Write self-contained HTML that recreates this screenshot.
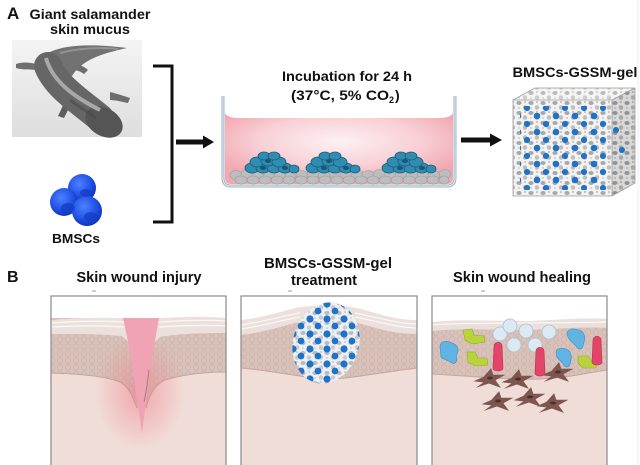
<!DOCTYPE html>
<html><head><meta charset="utf-8"><style>
html,body{margin:0;padding:0;background:#fff;}
svg{display:block;}
text{font-family:"Liberation Sans",Arial,sans-serif;font-weight:bold;fill:#111;}
</style></head><body>
<svg width="640" height="465" viewBox="0 0 640 465" xmlns="http://www.w3.org/2000/svg">
<defs>
  <linearGradient id="photo" x1="0" y1="0" x2="0" y2="1">
    <stop offset="0" stop-color="#f4f4f4"/><stop offset="1" stop-color="#dedede"/>
  </linearGradient>
  <radialGradient id="sph" cx="0.4" cy="0.35" r="0.7">
    <stop offset="0" stop-color="#4d82ff"/><stop offset="0.6" stop-color="#1f52e6"/><stop offset="1" stop-color="#0c2fb0"/>
  </radialGradient>
  <radialGradient id="liq" cx="0.5" cy="0.4" r="0.6">
    <stop offset="0" stop-color="#fdf1f2"/><stop offset="0.6" stop-color="#f8cfd5"/><stop offset="1" stop-color="#f2a7b1"/>
  </radialGradient>
  <radialGradient id="glow" cx="0.5" cy="0.5" r="0.5">
    <stop offset="0" stop-color="#f07a88" stop-opacity="0.55"/><stop offset="1" stop-color="#f07a88" stop-opacity="0"/>
  </radialGradient>
  <pattern id="pores" width="12" height="10" patternUnits="userSpaceOnUse">
    <rect width="12" height="10" fill="#f0f0f0"/>
    <ellipse cx="3" cy="3" rx="2.6" ry="2" fill="#999"/>
    <ellipse cx="9" cy="7.5" rx="2.2" ry="2.3" fill="#b3b3b3"/>
    <circle cx="9" cy="2" r="1" fill="#c9a98a"/>
    <circle cx="3" cy="8" r="1" fill="#c4c4c4"/>
  </pattern>
  <pattern id="bdots" width="19" height="16" patternUnits="userSpaceOnUse">
    <circle cx="5" cy="4" r="3.3" fill="#1f72c6"/>
    <circle cx="14" cy="12" r="3.1" fill="#1f72c6"/>
  </pattern>
  <pattern id="bdots2" width="17" height="15" patternUnits="userSpaceOnUse">
    <circle cx="4" cy="4" r="3.6" fill="#1f72c6"/>
    <circle cx="12" cy="11" r="3.4" fill="#1f72c6"/>
  </pattern>
  <pattern id="derm" width="8" height="7" patternUnits="userSpaceOnUse">
    <rect width="8" height="7" fill="#d9c2ba"/>
    <circle cx="4" cy="3.5" r="2.8" fill="none" stroke="#cbb0a7" stroke-width="0.6"/>
  </pattern>
  <clipPath id="c1"><rect x="51" y="296" width="175" height="170"/></clipPath>
  <clipPath id="c2"><rect x="241" y="296" width="176" height="170"/></clipPath>
  <clipPath id="c3"><rect x="432" y="296" width="175" height="170"/></clipPath>
  <clipPath id="gelB"><ellipse cx="326" cy="343" rx="33" ry="41" transform="rotate(15 326 343)"/></clipPath>
  <path id="fib" d="M-15,3 L-6,-1 L1,-9 L3,-3 L14,-3 L5,2 L10,9 L-1,5 L-13,9 L-6,4 Z"/>
</defs>

<line x1="638" y1="0" x2="638" y2="465" stroke="#ececec" stroke-width="1"/>

<!-- Panel A -->
<text x="7" y="19" font-size="17">A</text>
<text x="90" y="19" font-size="14" text-anchor="middle" textLength="121" lengthAdjust="spacingAndGlyphs">Giant salamander</text>
<text x="90" y="34" font-size="14" text-anchor="middle" textLength="80" lengthAdjust="spacingAndGlyphs">skin mucus</text>

<rect x="12" y="40" width="130" height="97" fill="url(#photo)"/>
<!-- salamander -->
<g>
  <path d="M16,64 C22,62 28,62 36,64 L36,70 C28,69 22,70 16,68 Z" fill="#6e6e6e"/>
  <path d="M72,64 C78,64 84,66 88,70 L84,74 C80,71 76,70 72,70 Z" fill="#6e6e6e"/>
  <path d="M110,92 C118,94 124,96 130,98 L128,103 C122,102 116,100 110,100 Z" fill="#6e6e6e"/>
  <path d="M64,102 C62,108 60,112 58,116 L64,118 C66,114 68,110 70,106 Z" fill="#5e5e5e"/>
  <path d="M38,62 C48,46 80,42 127,48 C100,54 82,60 72,76 Z" fill="#727272"/>
  <path d="M48,66 C56,86 78,100 100,118" stroke="#666" stroke-width="28" stroke-linecap="round" fill="none"/>
  <ellipse cx="104" cy="122" rx="20" ry="14" transform="rotate(30 104 122)" fill="#555"/>
  <path d="M46,58 C52,80 72,96 100,110" stroke="#a8a8a8" stroke-width="4" fill="none"/>
  <path d="M60,53 C80,48 100,47 118,49" stroke="#939393" stroke-width="2" fill="none"/>
  <path d="M70,100 C78,106 88,112 96,118" stroke="#4a4a4a" stroke-width="3" fill="none" opacity="0.6"/>
</g>

<!-- BMSCs spheres -->
<circle cx="82" cy="188" r="14" fill="url(#sph)"/>
<circle cx="64" cy="202" r="14" fill="url(#sph)"/>
<circle cx="87" cy="211" r="15" fill="url(#sph)"/>
<ellipse cx="68" cy="208" rx="7" ry="5" fill="#163fc6" opacity="0.8"/>
<ellipse cx="91" cy="217" rx="7" ry="5" fill="#163fc6" opacity="0.8"/>
<ellipse cx="86" cy="193" rx="6" ry="4" fill="#163fc6" opacity="0.8"/>
<text x="52" y="243" font-size="13" textLength="48" lengthAdjust="spacingAndGlyphs">BMSCs</text>

<!-- bracket -->
<path d="M153,66 L172,66 L172,222 L153,222" stroke="#111" stroke-width="3" fill="none"/>
<!-- arrow 1 -->
<line x1="176" y1="142" x2="205" y2="142" stroke="#111" stroke-width="5"/>
<polygon points="203,135.5 214,142 203,148.5" fill="#111"/>

<!-- Incubation -->
<text x="347" y="81" font-size="14" text-anchor="middle" textLength="130" lengthAdjust="spacingAndGlyphs">Incubation for 24 h</text>
<text x="340" y="100" font-size="14" text-anchor="middle" textLength="98" lengthAdjust="spacingAndGlyphs">(37°C, 5% CO</text>
<text x="389" y="103" font-size="9">2</text>
<text x="395" y="100" font-size="14">)</text>

<!-- petri dish -->
<path d="M225,113 Q227,118 240,118 L438,118 Q451,118 453,113 L453,178 Q453,184 447,184 L231,184 Q225,184 225,178 Z" fill="url(#liq)"/>
<g fill="#bdbdbd" stroke="#9a9a9a" stroke-width="0.6">
  <ellipse cx="236" cy="175" rx="6" ry="4.5"/><ellipse cx="247" cy="174" rx="6" ry="4.5"/><ellipse cx="258" cy="175" rx="6" ry="4.5"/>
  <ellipse cx="269" cy="174" rx="6" ry="4.5"/><ellipse cx="280" cy="175" rx="6" ry="4.5"/><ellipse cx="291" cy="174" rx="6" ry="4.5"/>
  <ellipse cx="302" cy="175" rx="6" ry="4.5"/><ellipse cx="313" cy="174" rx="6" ry="4.5"/><ellipse cx="324" cy="175" rx="6" ry="4.5"/>
  <ellipse cx="335" cy="174" rx="6" ry="4.5"/><ellipse cx="346" cy="175" rx="6" ry="4.5"/><ellipse cx="357" cy="174" rx="6" ry="4.5"/>
  <ellipse cx="368" cy="175" rx="6" ry="4.5"/><ellipse cx="379" cy="174" rx="6" ry="4.5"/><ellipse cx="390" cy="175" rx="6" ry="4.5"/>
  <ellipse cx="401" cy="174" rx="6" ry="4.5"/><ellipse cx="412" cy="175" rx="6" ry="4.5"/><ellipse cx="423" cy="174" rx="6" ry="4.5"/>
  <ellipse cx="434" cy="175" rx="6" ry="4.5"/><ellipse cx="445" cy="174" rx="6" ry="4.5"/>
  <ellipse cx="241" cy="180" rx="6" ry="4"/><ellipse cx="253" cy="180" rx="6" ry="4"/><ellipse cx="265" cy="180" rx="6" ry="4"/>
  <ellipse cx="277" cy="180" rx="6" ry="4"/><ellipse cx="289" cy="180" rx="6" ry="4"/><ellipse cx="301" cy="180" rx="6" ry="4"/>
  <ellipse cx="313" cy="180" rx="6" ry="4"/><ellipse cx="325" cy="180" rx="6" ry="4"/><ellipse cx="337" cy="180" rx="6" ry="4"/>
  <ellipse cx="349" cy="180" rx="6" ry="4"/><ellipse cx="361" cy="180" rx="6" ry="4"/><ellipse cx="373" cy="180" rx="6" ry="4"/>
  <ellipse cx="385" cy="180" rx="6" ry="4"/><ellipse cx="397" cy="180" rx="6" ry="4"/><ellipse cx="409" cy="180" rx="6" ry="4"/>
  <ellipse cx="421" cy="180" rx="6" ry="4"/><ellipse cx="433" cy="180" rx="6" ry="4"/><ellipse cx="444" cy="180" rx="5" ry="4"/>
</g>
<g id="cl" fill="#2f8db2" stroke="#1b5a78" stroke-width="0.8">
  <ellipse cx="252" cy="168" rx="7" ry="5"/><ellipse cx="263" cy="168" rx="7" ry="5"/><ellipse cx="274" cy="168" rx="7" ry="5"/><ellipse cx="285" cy="168" rx="7" ry="5"/><ellipse cx="294" cy="169" rx="5" ry="4"/>
  <ellipse cx="257" cy="162" rx="7" ry="5"/><ellipse cx="268" cy="161" rx="7" ry="5"/><ellipse cx="279" cy="162" rx="7" ry="5"/>
  <ellipse cx="264" cy="156" rx="6" ry="4"/><ellipse cx="274" cy="156" rx="6" ry="4"/>
</g>
<use href="#cl" x="61"/>
<use href="#cl" x="137"/>
<g fill="#1a5572">
  <ellipse cx="263" cy="168" rx="3" ry="2"/><ellipse cx="285" cy="168" rx="3" ry="2"/><ellipse cx="268" cy="161" rx="3" ry="2"/>
  <ellipse cx="324" cy="168" rx="3" ry="2"/><ellipse cx="346" cy="168" rx="3" ry="2"/><ellipse cx="329" cy="161" rx="3" ry="2"/>
  <ellipse cx="400" cy="168" rx="3" ry="2"/><ellipse cx="422" cy="168" rx="3" ry="2"/><ellipse cx="405" cy="161" rx="3" ry="2"/>
</g>
<path d="M223,96 L223,178 Q223,186 231,186 L447,186 Q455,186 455,178 L455,96" stroke="#9fb4c5" stroke-width="3" fill="none"/>
<path d="M223,96 L223,178 Q223,186 231,186 L447,186 Q455,186 455,178 L455,96" stroke="#e3ecf3" stroke-width="1" fill="none"/>

<!-- arrow 2 -->
<line x1="461" y1="140" x2="492" y2="140" stroke="#111" stroke-width="5"/>
<polygon points="490,133.5 502,140 490,146.5" fill="#111"/>

<!-- gel cube -->
<text x="575" y="77" font-size="13.5" text-anchor="middle" textLength="125" lengthAdjust="spacingAndGlyphs">BMSCs-GSSM-gel</text>
<polygon points="513,100 535,88 635,88 612,100" fill="url(#pores)"/>
<polygon points="513,100 535,88 635,88 612,100" fill="#fff" opacity="0.35"/>
<polygon points="612,100 635,88 635,183 612,196" fill="url(#pores)"/>
<polygon points="612,100 635,88 635,183 612,196" fill="#777" opacity="0.2"/>
<rect x="513" y="100" width="99" height="96" fill="url(#pores)"/>
<rect x="513" y="100" width="99" height="96" fill="#fff" opacity="0.15"/>
<rect x="520" y="106" width="88" height="84" fill="url(#bdots)"/>
<circle cx="616" cy="130" r="3" fill="#1f72c6"/><circle cx="622" cy="150" r="3" fill="#1f72c6"/>
<path d="M513,100 L535,88 L635,88 L635,183 L612,196 L513,196 Z M513,100 L612,100 L635,88 M612,100 L612,196" fill="none" stroke="#9c9c9c" stroke-width="0.8"/>

<!-- Panel B -->
<text x="7" y="282" font-size="16">B</text>
<text x="139" y="282" font-size="14.5" text-anchor="middle" textLength="125" lengthAdjust="spacingAndGlyphs">Skin wound injury</text>
<text x="328" y="268" font-size="14.5" text-anchor="middle" textLength="128" lengthAdjust="spacingAndGlyphs">BMSCs-GSSM-gel</text>
<text x="324" y="285" font-size="14.5" text-anchor="middle" textLength="66" lengthAdjust="spacingAndGlyphs">treatment</text>
<text x="522" y="282" font-size="14.5" text-anchor="middle" textLength="138" lengthAdjust="spacingAndGlyphs">Skin wound healing</text>
<g stroke="#999" stroke-width="1"><line x1="92" y1="291" x2="96" y2="291"/><line x1="288" y1="291" x2="292" y2="291"/><line x1="481" y1="291" x2="485" y2="291"/></g>

<!-- Panel 1 -->
<g clip-path="url(#c1)">
  <rect x="51" y="296" width="175" height="170" fill="#fff"/>
  <rect x="51" y="318" width="175" height="150" fill="#f1ddd7"/>
  <path d="M51,318 L226,318 L226,372 C205,372 185,374 165,380 C156,384 150,392 146,408 L137,408 C132,395 128,386 120,382 C105,376 80,374 51,373 Z" fill="url(#derm)"/>
  <path d="M51,373 C80,374 105,376 120,382 C128,386 132,395 137,408 M146,408 C150,392 156,384 165,380 C185,374 205,372 226,372" fill="none" stroke="#c4a69d" stroke-width="1"/>
  <path d="M51,320 C80,317 110,318 124,318 L159,318 C180,317 205,316 226,318 L226,333 C200,333 175,334 160,337 L152,345 L132,345 L122,336 C100,334 80,334 51,334 Z" fill="#ebe0dc"/>
  <path d="M51,323 C90,320 110,321 124,322 M159,322 C190,320 210,320 226,321 M51,327 C90,325 110,326 124,327 M159,327 C190,325 210,325 226,326" stroke="#fbf7f6" stroke-width="1.2" fill="none"/>
  <ellipse cx="140" cy="392" rx="45" ry="58" fill="url(#glow)"/>
  <path d="M123,318 L159,318 C155,340 150,370 147,395 C145,410 143,425 142,433 C140,420 138,405 136,395 C134,370 128,340 123,318 Z" fill="#f0a3b4"/>
  <path d="M149,370 C147,385 146,395 144,402" stroke="#a57f78" stroke-width="1" fill="none"/>
</g>
<rect x="51" y="296" width="175" height="175" fill="none" stroke="#8a8a8a" stroke-width="1.2"/>

<!-- Panel 2 -->
<g clip-path="url(#c2)">
  <rect x="241" y="296" width="176" height="170" fill="#fff"/>
  <rect x="241" y="330" width="176" height="140" fill="#f1ddd7"/>
  <path d="M241,322 C260,320 280,314 295,310 C320,306 345,306 365,312 C385,318 400,322 417,322 L417,368 C370,374 345,380 320,379 C290,375 265,370 241,368 Z" fill="url(#derm)"/>
  <path d="M241,368 C265,370 290,375 320,379 C345,380 370,374 417,368" fill="none" stroke="#c4a69d" stroke-width="1"/>
  <path d="M241,320 C260,318 280,312 295,308 C320,304 345,304 365,310 C385,316 400,320 417,320 L417,334 C400,334 385,331 365,325 C345,319 320,319 295,323 C280,327 260,333 241,335 Z" fill="#ebe0dc"/>
  <path d="M241,325 C262,322 282,316 300,313 M355,313 C380,318 400,324 417,324 M241,329 C262,326 282,320 300,317 M355,317 C380,322 400,328 417,328" stroke="#fbf7f6" stroke-width="1.2" fill="none"/>
  <g clip-path="url(#gelB)">
    <rect x="288" y="298" width="80" height="90" fill="url(#pores)"/>
    <rect x="288" y="298" width="80" height="90" fill="#e8f1f8" opacity="0.4"/>
    <rect x="291" y="301" width="80" height="90" fill="url(#bdots2)"/>
  </g>
</g>
<rect x="241" y="296" width="176" height="175" fill="none" stroke="#8a8a8a" stroke-width="1.2"/>

<!-- Panel 3 -->
<g clip-path="url(#c3)">
  <rect x="432" y="296" width="175" height="170" fill="#fff"/>
  <rect x="432" y="330" width="175" height="140" fill="#f1ddd7"/>
  <path d="M432,323 C460,320 490,322 520,322 C550,322 580,318 607,320 L607,370 C590,372 570,378 540,379 C510,380 470,376 432,374 Z" fill="url(#derm)"/>
  <path d="M432,374 C470,376 510,380 540,379 C570,378 590,372 607,370" fill="none" stroke="#c4a69d" stroke-width="1"/>
  <path d="M432,322 C460,319 490,321 520,321 C550,321 580,317 607,319 L607,328 C580,326 550,330 520,330 C490,330 460,328 432,331 Z" fill="#e9dfdb"/>
  <path d="M432,325 C470,322 520,324 607,322" stroke="#fbf7f6" stroke-width="1.2" fill="none"/>
  <!-- fibroblasts -->
  <g fill="#7d5650">
    <use href="#fib" transform="translate(490,378) scale(1.1)"/>
    <use href="#fib" transform="translate(518,379) scale(1.1)"/>
    <use href="#fib" transform="translate(558,372) scale(1.1)"/>
    <use href="#fib" transform="translate(498,401) scale(1.1)"/>
    <use href="#fib" transform="translate(530,397) scale(1.1)"/>
    <use href="#fib" transform="translate(553,403) scale(1.1)"/>
  </g>
  <g fill="#4e2f2c"><ellipse cx="490" cy="378" rx="3" ry="1.5"/><ellipse cx="518" cy="379" rx="3" ry="1.5"/><ellipse cx="558" cy="372" rx="3" ry="1.5"/><ellipse cx="498" cy="401" rx="3" ry="1.5"/><ellipse cx="530" cy="397" rx="3" ry="1.5"/><ellipse cx="553" cy="403" rx="3" ry="1.5"/></g>
  <!-- bubbles -->
  <g fill="#dce9f2" stroke="#a9c3d6" stroke-width="0.8">
    <circle cx="500" cy="334" r="7"/><circle cx="510" cy="326" r="7"/><circle cx="526" cy="331" r="7"/>
    <circle cx="514" cy="345" r="7"/><circle cx="535" cy="345" r="7"/><circle cx="549" cy="332" r="7"/>
  </g>
  <!-- green -->
  <g fill="#b9d33c" stroke="#93ab22" stroke-width="0.6">
    <path d="M463,330 L472,329 L474,335 L484,336 L485,342 L472,344 L465,340 Z"/>
    <path d="M467,352 L475,352 L478,358 L487,358 L488,365 L475,366 L468,362 Z"/>
    <path d="M578,356 L588,356 L592,361 L597,362 L596,368 L583,368 L578,363 Z"/>
  </g>
  <!-- blue -->
  <g fill="#5fb4e4" stroke="#3a8fc3" stroke-width="0.6">
    <path d="M440,347 C440,341 446,340 452,343 C458,345 460,350 456,355 C458,360 456,365 452,363 C448,360 444,360 441,357 Z"/>
    <path d="M567,334 C567,328 575,328 581,331 C586,334 585,340 583,346 C582,350 578,350 576,346 C573,342 568,340 567,334 Z"/>
    <path d="M556,353 C556,348 562,347 568,350 C572,353 572,358 570,364 C569,368 565,368 563,364 C561,360 556,359 556,353 Z"/>
  </g>
  <!-- red -->
  <g fill="#e3456a" stroke="#c22d52" stroke-width="0.6">
    <path d="M494,346 C494,341 502,341 502,346 L503,368 C503,372 493,372 493,368 Z"/>
    <path d="M536,351 C536,346 544,346 544,351 L545,373 C545,377 535,377 535,373 Z"/>
    <path d="M593,340 C593,335 601,335 601,340 L602,362 C602,366 592,366 592,362 Z"/>
  </g>
</g>
<rect x="432" y="296" width="175" height="175" fill="none" stroke="#8a8a8a" stroke-width="1.2"/>
</svg>
</body></html>
